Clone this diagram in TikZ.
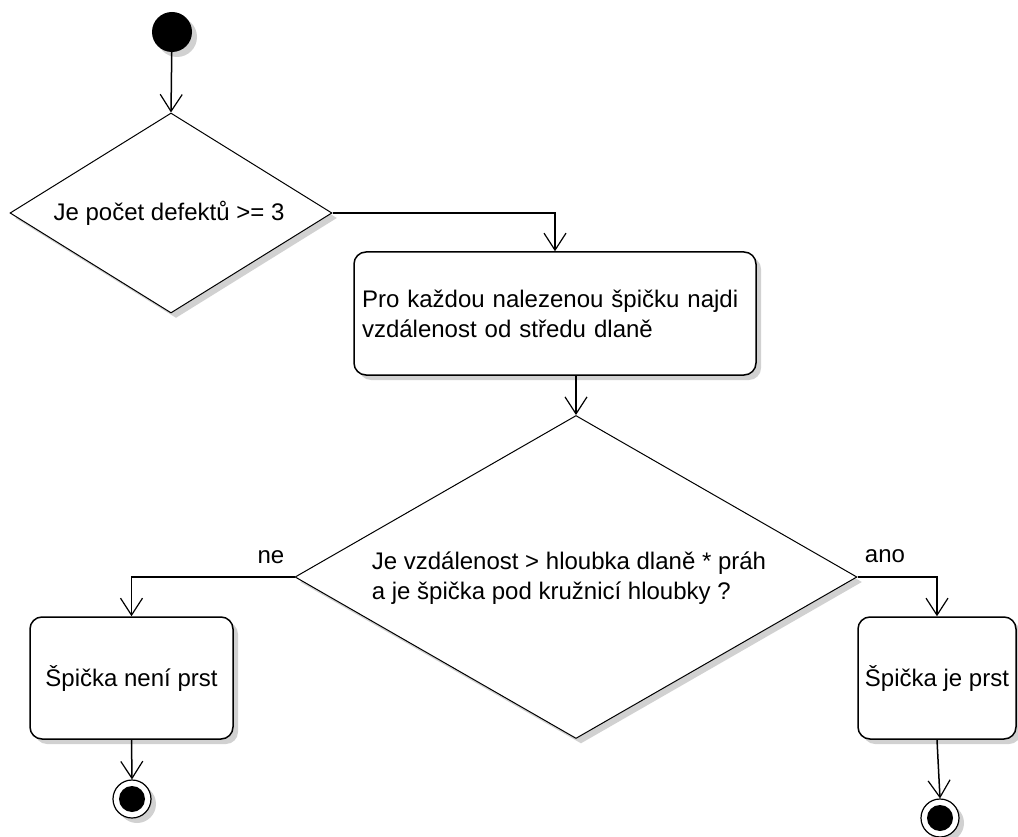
\documentclass[tikz,border=0pt]{standalone}
\usepackage{fontspec}
\setmainfont{Liberation Sans}
\usetikzlibrary{shapes.geometric,arrows.meta,shadows}

\begin{document}
\begin{tikzpicture}[x=1pt,y=-1pt,
  font=\fontsize{24}{30}\selectfont,
  shad/.style={drop shadow={shadow xshift=5pt,shadow yshift=-5pt,fill=black!18,opacity=1}},
  decision/.style={diamond, draw, line width=1pt, fill=white, shad, inner sep=0pt},
  action/.style={rectangle, rounded corners=12pt, draw, line width=1.5pt, fill=white, shad, inner sep=0pt},
  flow/.style={line width=1.5pt, -{Straight Barb[length=17pt,width=22pt,line width=1.2pt]}},
  lbl/.style={inner sep=0pt},
]
\fill[white] (0,0) rectangle (1018,837);
\useasboundingbox (0,0) rectangle (1018,837);

\node[circle, fill=black, minimum size=40pt, inner sep=0pt, shad] (start) at (172,32) {};

\node[decision, minimum width=322pt, minimum height=200pt] (d1) at (171,213) {};
\node[lbl] (d1t) at (169,213) {Je počet defektů >= 3};

\node[action, minimum width=402pt, minimum height=123pt, text width=386pt, inner xsep=8pt, align=left] (b1) at (555,313.5)
  {Pro každou nalezenou špičku najdi\\vzdálenost od středu dlaně};

\node[decision, minimum width=562pt, minimum height=323pt] (d2) at (576,577) {};
\node[lbl, align=left] (d2t) at (569,578)
  {Je vzdálenost > hloubka dlaně * práh\\a je špička pod kružnicí hloubky ?};

\node[action, minimum width=203pt, minimum height=122pt] (b2) at (131.5,678) {Špička není prst};
\node[action, minimum width=158pt, minimum height=122pt] (b3) at (937,678) {Špička je prst};

\node[circle, draw, line width=1.2pt, fill=white, minimum size=38pt, inner sep=0pt, shad] (e1) at (132,799) {};
\node[circle, fill=black, minimum size=26pt, inner sep=0pt] (e1in) at (e1) {};
\node[circle, draw, line width=1.2pt, fill=white, minimum size=38pt, inner sep=0pt, shad] (e2) at (940,818) {};
\node[circle, fill=black, minimum size=26pt, inner sep=0pt] (e2in) at (e2) {};

\node[lbl] (ne) at (271,557) {ne};
\node[lbl] (ano) at (885,556) {ano};

\draw[flow] (start) -- (d1.north);
\draw[flow] (d1.east) -| (b1.north);
\draw[flow] (b1.south -| d2.north) -- (d2.north);
\draw[flow] (d2.west) -| (b2.north);
\draw[flow] (d2.east) -| (b3.north);
\draw[flow] (b2.south) -- (e1.north);
\draw[flow] (b3.south) -- (e2.north);
\end{tikzpicture}
\end{document}
